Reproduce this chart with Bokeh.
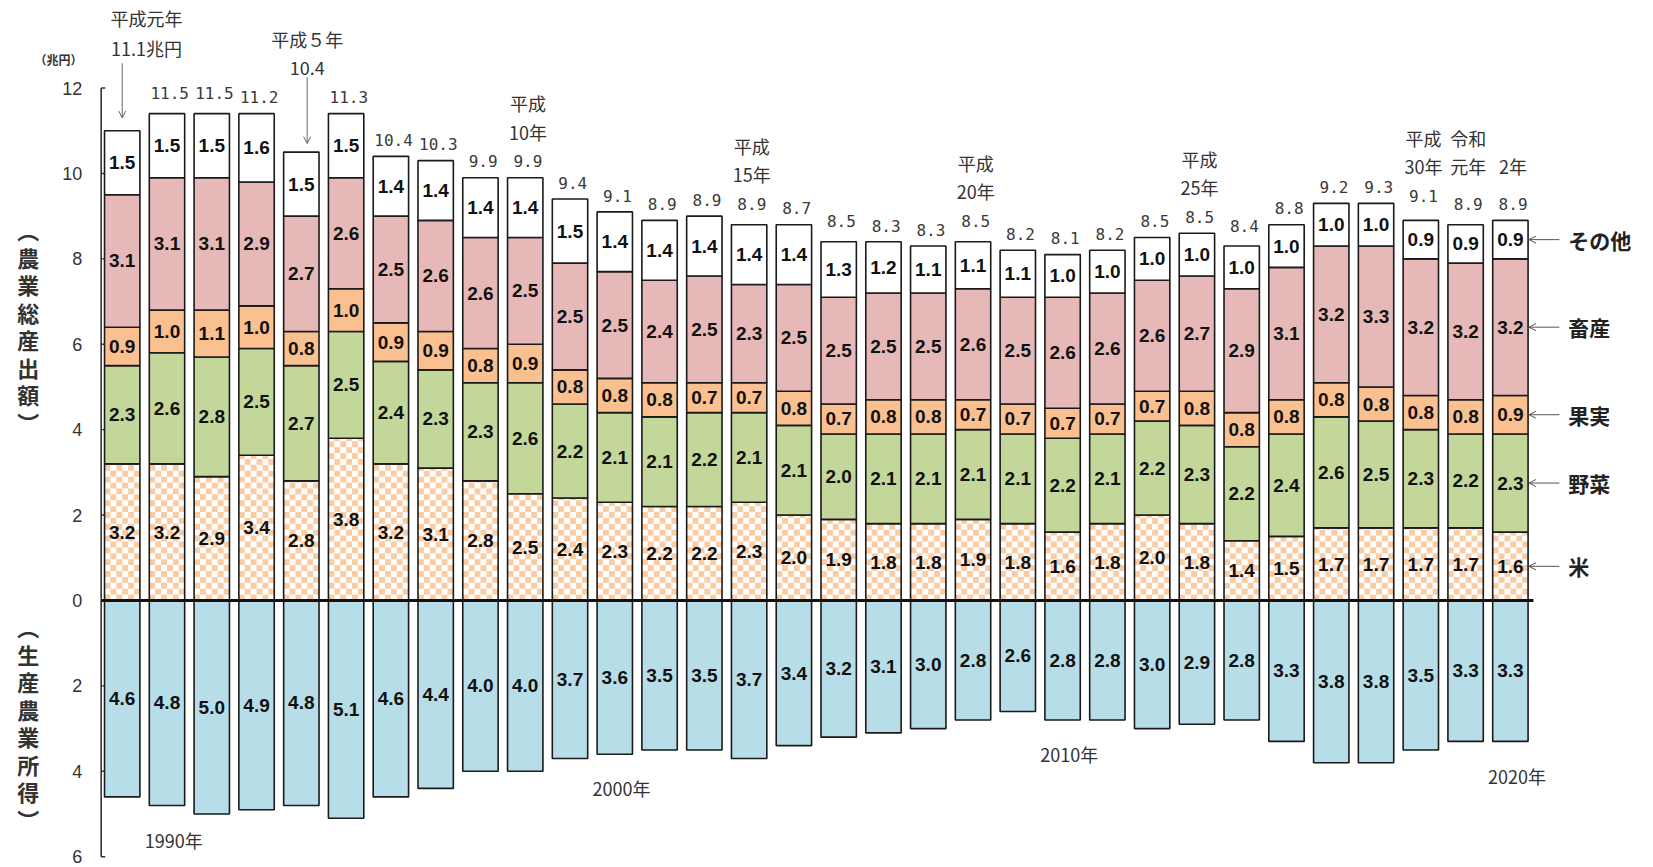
import numpy as np
from bokeh.plotting import figure
from bokeh.models import Range1d, ColumnDataSource, Arrow, OpenHead
from bokeh.core.properties import value
from bokeh.embed import file_html
from bokeh.resources import INLINE

# ---- data (兆円) ------------------------------------------------------------
years = list(range(1989, 2021))
rice = [3.2, 3.2, 2.9, 3.4, 2.8, 3.8, 3.2, 3.1, 2.8, 2.5, 2.4, 2.3, 2.2, 2.2, 2.3, 2.0,
        1.9, 1.8, 1.8, 1.9, 1.8, 1.6, 1.8, 2.0, 1.8, 1.4, 1.5, 1.7, 1.7, 1.7, 1.7, 1.6]
vegetables = [2.3, 2.6, 2.8, 2.5, 2.7, 2.5, 2.4, 2.3, 2.3, 2.6, 2.2, 2.1, 2.1, 2.2, 2.1, 2.1,
              2.0, 2.1, 2.1, 2.1, 2.1, 2.2, 2.1, 2.2, 2.3, 2.2, 2.4, 2.6, 2.5, 2.3, 2.2, 2.3]
fruit = [0.9, 1.0, 1.1, 1.0, 0.8, 1.0, 0.9, 0.9, 0.8, 0.9, 0.8, 0.8, 0.8, 0.7, 0.7, 0.8,
         0.7, 0.8, 0.8, 0.7, 0.7, 0.7, 0.7, 0.7, 0.8, 0.8, 0.8, 0.8, 0.8, 0.8, 0.8, 0.9]
livestock = [3.1, 3.1, 3.1, 2.9, 2.7, 2.6, 2.5, 2.6, 2.6, 2.5, 2.5, 2.5, 2.4, 2.5, 2.3, 2.5,
             2.5, 2.5, 2.5, 2.6, 2.5, 2.6, 2.6, 2.6, 2.7, 2.9, 3.1, 3.2, 3.3, 3.2, 3.2, 3.2]
other = [1.5, 1.5, 1.5, 1.6, 1.5, 1.5, 1.4, 1.4, 1.4, 1.4, 1.5, 1.4, 1.4, 1.4, 1.4, 1.4,
         1.3, 1.2, 1.1, 1.1, 1.1, 1.0, 1.0, 1.0, 1.0, 1.0, 1.0, 1.0, 1.0, 0.9, 0.9, 0.9]
total = [11.1, 11.5, 11.5, 11.2, 10.4, 11.3, 10.4, 10.3, 9.9, 9.9, 9.4, 9.1, 8.9, 8.9, 8.9, 8.7,
         8.5, 8.3, 8.3, 8.5, 8.2, 8.1, 8.2, 8.5, 8.5, 8.4, 8.8, 9.2, 9.3, 9.1, 8.9, 8.9]
income = [4.6, 4.8, 5.0, 4.9, 4.8, 5.1, 4.6, 4.4, 4.0, 4.0, 3.7, 3.6, 3.5, 3.5, 3.7, 3.4,
          3.2, 3.1, 3.0, 2.8, 2.6, 2.8, 2.8, 3.0, 2.9, 2.8, 3.3, 3.8, 3.8, 3.5, 3.3, 3.3]

category_names = ["米", "野菜", "果実", "畜産", "その他"]

y_ticks = [12, 10, 8, 6, 4, 2, 0, -2, -4, -6]
y_tick_labels = ["12", "10", "8", "6", "4", "2", "0", "2", "4", "6"]

decade_years = [1990, 2000, 2010, 2020]

# era captions above selected bars
era_years = [1998, 2003, 2008, 2013, 2018, 2019, 2020]
era_line1 = ["平成", "平成", "平成", "平成", "平成", "令和", ""]
era_line2 = ["10年", "15年", "20年", "25年", "30年", "元年", "2年"]
era_anchor = [1998, 2003, 2008, 2013, 2018, 2018, 2018]

# captions with arrows (their totals are printed inside the caption)
callout_years = [1989, 1993]
callout_line1 = ["平成元年", "平成５年"]
callout_suffix = ["兆円", ""]

# ---- styling -----------------------------------------------------------------
W, H = 1653, 867
X0, X1 = -2.718, 34.196
Y0, Y1 = -6.253, 14.05
BW = 0.79
OUT = "#1a1a1a"
C_VEG = "#C4D79B"
C_FRUIT = "#FAC090"
C_LIVE = "#E6B9B8"
C_OTHER = "#FFFFFF"
C_INCOME = "#B7DDE8"
C_PEACH = "#F9CCA4"
JP = value("Noto Sans CJK JP")

p = figure(width=W, height=H, x_range=Range1d(X0, X1), y_range=Range1d(Y0, Y1),
           output_backend="svg", toolbar_location=None,
           x_axis_location=None, y_axis_location=None, min_border=0)
p.outline_line_color = None
p.grid.visible = False
p.background_fill_color = "white"
p.border_fill_color = "white"

x = np.arange(len(years), dtype=float)
r = np.array(rice)
v = np.array(vegetables)
f = np.array(fruit)
l = np.array(livestock)
o = np.array(other)
inc = np.array(income)
tot = np.array(total)

b1 = r
b2 = b1 + v
b3 = b2 + f
b4 = b3 + l
b5 = b4 + o

src = ColumnDataSource(dict(x=x, r=r, b2=b2, b3=b3, b4=b4, b5=b5, neg=-inc))

# rice: white base + checker squares + outline
p.vbar(x="x", width=BW, bottom=0, top="r", fill_color="white", line_color=None, source=src)

px_x = W / (X1 - X0)
px_y = H / (Y1 - Y0)
ncol = 6
cw = BW / ncol
ch = (cw * px_x) / px_y
ql, qr, qb, qt = [], [], [], []
for i, rv in enumerate(rice):
    nrow = int(np.ceil(rv / ch - 1e-9))
    for row in range(nrow):
        for c in range(ncol):
            if (row + c) % 2 == 0:
                left = x[i] - BW / 2 + c * cw
                ql.append(left)
                qr.append(left + cw)
                qb.append(row * ch)
                qt.append(min((row + 1) * ch, rv))
p.quad(left=ql, right=qr, bottom=qb, top=qt, fill_color=C_PEACH, line_color=None)
p.vbar(x="x", width=BW, bottom=0, top="r", fill_color=None, line_color=OUT,
       line_width=1.6, source=src)

p.vbar(x="x", width=BW, bottom="r", top="b2", fill_color=C_VEG, line_color=OUT, line_width=1.6, source=src)
p.vbar(x="x", width=BW, bottom="b2", top="b3", fill_color=C_FRUIT, line_color=OUT, line_width=1.6, source=src)
p.vbar(x="x", width=BW, bottom="b3", top="b4", fill_color=C_LIVE, line_color=OUT, line_width=1.6, source=src)
p.vbar(x="x", width=BW, bottom="b4", top="b5", fill_color=C_OTHER, line_color=OUT, line_width=1.6, source=src)
p.vbar(x="x", width=BW, bottom=0, top="neg", fill_color=C_INCOME, line_color=OUT, line_width=1.6, source=src)

# axis
AX = x[0] - BW / 2 - 0.075
p.segment(x0=[AX], y0=[max(y_ticks)], x1=[AX], y1=[min(y_ticks)], line_color="#333333", line_width=1.6)
p.segment(x0=[AX] * len(y_ticks), y0=y_ticks, x1=[AX + 0.09] * len(y_ticks), y1=y_ticks,
          line_color="#333333", line_width=1.4)
p.text(x=[AX - 0.42] * len(y_ticks), y=y_ticks, text=y_tick_labels, text_align="right",
       text_baseline="middle", text_font=value("Liberation Sans"), text_font_size="18px",
       text_color="#333333")
p.text(x=[-1.42], y=[12.66], text=["（兆円）"], text_align="center", text_baseline="middle",
       text_font=JP, text_font_size="12px", text_color="#333333", text_font_style="bold")

# zero line
p.segment(x0=[AX], y0=[0], x1=[x[-1] + BW / 2 + 0.12], y1=[0], line_color="#111111", line_width=2.8)

# vertical titles
p.text(x=[-2.10], y=[6.44], text=["\n".join("︵農業総産出額︶")], text_align="center",
       text_baseline="middle", text_line_height=0.86, text_font=JP, text_font_size="22px",
       text_font_style="bold", text_color="#333333")
p.text(x=[-2.10], y=[-2.86], text=["\n".join("︵生産農業所得︶")], text_align="center",
       text_baseline="middle", text_line_height=0.86, text_font=JP, text_font_size="22px",
       text_font_style="bold", text_color="#333333")

# segment value labels
lx, ly, lt = [], [], []
for bottoms, tops, vals in [(np.zeros_like(r), b1, r), (b1, b2, v), (b2, b3, f), (b3, b4, l), (b4, b5, o)]:
    for i in range(len(years)):
        lx.append(x[i])
        ly.append((bottoms[i] + tops[i]) / 2)
        lt.append(f"{vals[i]:.1f}")
for i in range(len(years)):
    lx.append(x[i])
    ly.append(-inc[i] / 2)
    lt.append(f"{inc[i]:.1f}")
p.text(x=lx, y=ly, text=lt, text_align="center", text_baseline="middle",
       text_font=value("Liberation Sans"), text_font_style="bold", text_font_size="19px",
       text_color="#111111")

# totals above bars (kept clear of the drawn stack)
TOFF = 0.38
top_edge = np.maximum(tot, b5)
tx, ty, tt = [], [], []
for i, yr in enumerate(years):
    if yr in callout_years:
        continue
    tx.append(x[i] + 0.06)
    ty.append(top_edge[i] + TOFF)
    tt.append(f"{tot[i]:.1f}")
p.text(x=tx, y=ty, text=tt, text_align="center", text_baseline="middle",
       text_font=value("DejaVu Sans Mono"), text_font_size="16px", text_color="#3a3a3a")

# era captions
ex, ey1, ey2 = [], [], []
for yr, anc in zip(era_years, era_anchor):
    i = years.index(yr)
    base = top_edge[years.index(anc)] + TOFF
    ex.append(x[i] + 0.06)
    ey2.append(base + 0.70)
    ey1.append(base + 1.36)
p.text(x=ex, y=ey1, text=era_line1, text_align="center", text_baseline="middle",
       text_font=JP, text_font_size="18px", text_color="#333333")
p.text(x=ex, y=ey2, text=era_line2, text_align="center", text_baseline="middle",
       text_font=JP, text_font_size="18px", text_color="#333333")

# callouts with arrows
callout_text_x = [0.54, 4.13]
callout_arrow_x = [0.0, 4.13]
callout_y1 = [13.63, 13.16]
callout_y2 = [12.93, 12.46]
callout_arrow_start = [12.58, 12.25]
for k, yr in enumerate(callout_years):
    i = years.index(yr)
    p.text(x=[callout_text_x[k]], y=[callout_y1[k]], text=[callout_line1[k]], text_align="center",
           text_baseline="middle", text_font=JP, text_font_size="18px", text_color="#333333")
    p.text(x=[callout_text_x[k]], y=[callout_y2[k]], text=[f"{tot[i]:.1f}{callout_suffix[k]}"],
           text_align="center", text_baseline="middle", text_font=JP, text_font_size="18px",
           text_color="#333333")
    p.add_layout(Arrow(x_start=callout_arrow_x[k], y_start=callout_arrow_start[k],
                       x_end=callout_arrow_x[k], y_end=top_edge[i] + 0.2,
                       line_color="#666666", line_width=1,
                       end=OpenHead(size=7, line_color="#666666", line_width=1)))

# category labels on the right, pointing at the last bar
last = len(years) - 1
mids = [b1[last] / 2, (b1[last] + b2[last]) / 2, (b2[last] + b3[last]) / 2,
        (b3[last] + b4[last]) / 2, (b4[last] + b5[last]) / 2]
tip = x[last] + BW / 2 + 0.02
for name, ym in zip(category_names, mids):
    p.add_layout(Arrow(x_start=tip + 0.68, y_start=ym, x_end=tip, y_end=ym,
                       line_color="#555555", line_width=1,
                       end=OpenHead(size=7, line_color="#555555", line_width=1)))
p.text(x=[tip + 0.88] * len(category_names), y=mids, text=category_names, text_align="left",
       text_baseline="middle", text_font=JP, text_font_size="21px", text_font_style="bold",
       text_color="#222222")

# decade markers under the income bars
dx, dy, dt = [], [], []
for yr in decade_years:
    i = years.index(yr)
    dx.append(x[i] + 0.15)
    dy.append(-(inc[i] + 0.8))
    dt.append(f"{yr}年")
p.text(x=dx, y=dy, text=dt, text_align="center", text_baseline="middle",
       text_font=JP, text_font_size="18px", text_color="#333333")

with open("out.html", "w") as fh:
    fh.write(file_html(p, INLINE))
